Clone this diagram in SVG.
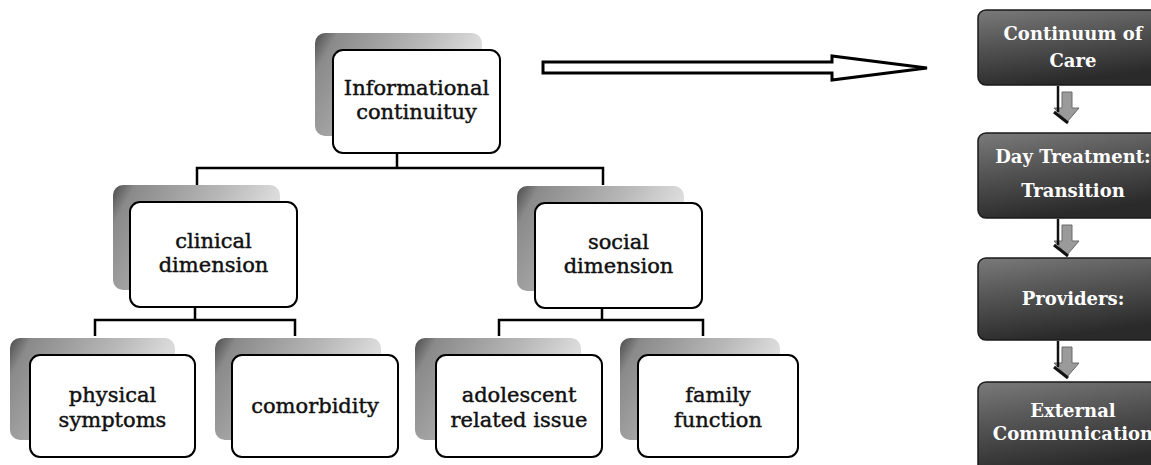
<svg xmlns="http://www.w3.org/2000/svg" width="1151" height="465" viewBox="0 0 1151 465">
  <style>
    .box { fill: #ffffff; stroke: #000000; stroke-width: 2; }
    .shade { fill: url(#shadeGrad); }
    .lbl { font-family: "DejaVu Serif", "Liberation Serif", serif; font-size: 21px; fill: #111111; stroke: #111111; stroke-width: 0.45; text-anchor: middle; }
    .dark { fill: url(#darkGrad); stroke: #1a1a1a; stroke-width: 1.5; }
    .wlbl { font-family: "DejaVu Serif", "Liberation Serif", serif; font-size: 18px; font-weight: bold; fill: #ffffff; text-anchor: middle; }
    .link { fill: none; stroke: #000000; stroke-width: 2.5; }
    .stem { fill: none; stroke: #111111; stroke-width: 2.5; }
    .tip { fill: #9a9a9a; stroke: #6a6a6a; stroke-width: 1; }
    .tipEdge { fill: none; stroke: #111111; stroke-width: 3; }
  </style>
  <defs>
    <linearGradient id="shadeGrad" x1="0" y1="0" x2="1" y2="0.35">
      <stop offset="0" stop-color="#4a4a4a"/>
      <stop offset="0.12" stop-color="#8a8a8a"/>
      <stop offset="0.6" stop-color="#b8b8b8"/>
      <stop offset="1" stop-color="#e6e6e6"/>
    </linearGradient>
    <linearGradient id="darkGrad" x1="0" y1="0" x2="0.3" y2="1">
      <stop offset="0" stop-color="#7a7a7a"/>
      <stop offset="0.45" stop-color="#555555"/>
      <stop offset="1" stop-color="#2a2a2a"/>
    </linearGradient>
    <!-- small shaded down-arrow used between process steps -->
    <g id="stepArrow">
      <path class="tip" d="M4,6 H14 V22 H21 L9,36 L-4,22 H4 Z"/>
      <path class="stem" d="M0,0 V26"/>
      <path class="tipEdge" d="M-4,26 L10,37"/>
    </g>
  </defs>

  <!-- tree connectors -->
  <g id="connectors">
    <path class="link" d="M397,153 V168 M197,185 V168 H603 V185"/>
    <path class="link" d="M195,307 V320 M95,336 V320 H295 V336"/>
    <path class="link" d="M602,308 V320 M499,336 V320 H703 V336"/>
    <!-- hollow block arrow toward the process column -->
    <path d="M543,62 H832 V56 L927,68 L832,80 V73 H543 Z" fill="#ffffff" stroke="#000000" stroke-width="3" stroke-linejoin="miter"/>
    <!-- step arrows in the process column -->
    <use href="#stepArrow" x="1058" y="86"/>
    <use href="#stepArrow" x="1058" y="219"/>
    <use href="#stepArrow" x="1058" y="341"/>
  </g>

  <g id="node-informational">
    <rect class="shade" x="315" y="33" width="167" height="103" rx="10"/>
    <rect class="box" x="333" y="50" width="167" height="103" rx="10"/>
    <text class="lbl" x="416.5" y="95">Informational</text>
    <text class="lbl" x="416.5" y="119">continuituy</text>
  </g>

  <g id="node-clinical">
    <rect class="shade" x="113" y="185" width="167" height="105" rx="10"/>
    <rect class="box" x="130" y="202" width="167" height="105" rx="10"/>
    <text class="lbl" x="213.5" y="248">clinical</text>
    <text class="lbl" x="213.5" y="272">dimension</text>
  </g>

  <g id="node-social">
    <rect class="shade" x="517" y="186" width="167" height="105" rx="10"/>
    <rect class="box" x="535" y="203" width="167" height="105" rx="10"/>
    <text class="lbl" x="618.5" y="249">social</text>
    <text class="lbl" x="618.5" y="273">dimension</text>
  </g>

  <g id="node-physical">
    <rect class="shade" x="10" y="338" width="165" height="102" rx="10"/>
    <rect class="box" x="30" y="355" width="165" height="102" rx="10"/>
    <text class="lbl" x="112.5" y="402">physical</text>
    <text class="lbl" x="112.5" y="427">symptoms</text>
  </g>

  <g id="node-comorbidity">
    <rect class="shade" x="215" y="338" width="166" height="102" rx="10"/>
    <rect class="box" x="232" y="355" width="166" height="102" rx="10"/>
    <text class="lbl" x="315" y="413">comorbidity</text>
  </g>

  <g id="node-adolescent">
    <rect class="shade" x="415" y="338" width="166" height="102" rx="10"/>
    <rect class="box" x="436" y="355" width="166" height="102" rx="10"/>
    <text class="lbl" x="519" y="402">adolescent</text>
    <text class="lbl" x="519" y="427">related issue</text>
  </g>

  <g id="node-family">
    <rect class="shade" x="620" y="338" width="160" height="102" rx="10"/>
    <rect class="box" x="638" y="355" width="160" height="102" rx="10"/>
    <text class="lbl" x="718" y="402">family</text>
    <text class="lbl" x="718" y="427">function</text>
  </g>

  <g id="step-continuum">
    <rect class="dark" x="978" y="10" width="185" height="75" rx="8"/>
    <text class="wlbl" x="1073" y="40">Continuum of</text>
    <text class="wlbl" x="1073" y="67">Care</text>
  </g>

  <g id="step-daytreatment">
    <rect class="dark" x="978" y="133" width="185" height="85" rx="8"/>
    <text class="wlbl" x="1073" y="163">Day Treatment:</text>
    <text class="wlbl" x="1073" y="197">Transition</text>
  </g>

  <g id="step-providers">
    <rect class="dark" x="978" y="258" width="185" height="82" rx="8"/>
    <text class="wlbl" x="1073" y="305">Providers:</text>
  </g>

  <g id="step-external">
    <rect class="dark" x="978" y="382" width="185" height="90" rx="8"/>
    <text class="wlbl" x="1073" y="417">External</text>
    <text class="wlbl" x="1073" y="440">Communication</text>
  </g>
</svg>
